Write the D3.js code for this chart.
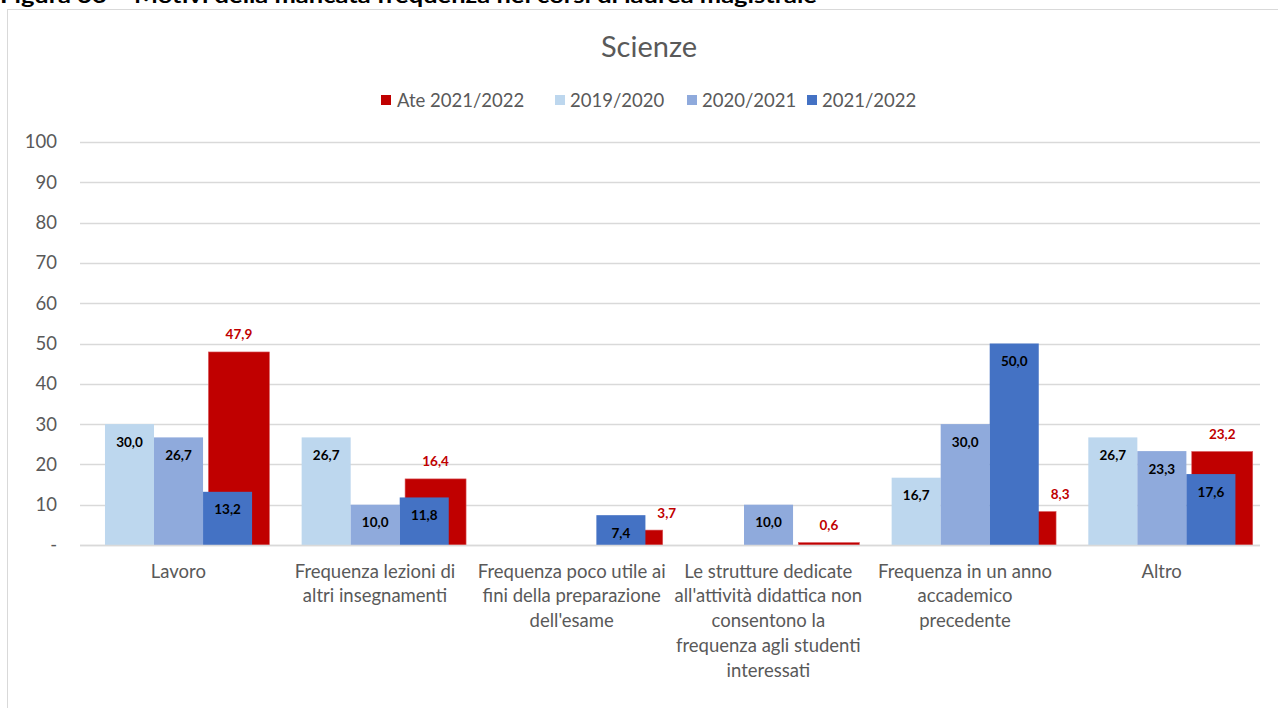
<!DOCTYPE html>
<html><head><meta charset="utf-8">
<script src="https://cdn.jsdelivr.net/npm/d3@7"></script>
<style>
html,body{margin:0;padding:0;background:#fff;overflow:hidden}
svg{display:block}
text{font-family:"Lato","Open Sans",sans-serif}
</style></head>
<body>
<svg id="c" width="1278" height="708"></svg>
<script>
const categories = [
  ["Lavoro"],
  ["Frequenza lezioni di","altri insegnamenti"],
  ["Frequenza poco utile ai","fini della preparazione","dell'esame"],
  ["Le strutture dedicate","all'attività didattica non","consentono la","frequenza agli studenti","interessati"],
  ["Frequenza in un anno","accademico","precedente"],
  ["Altro"]
];
const ateName = "Ate 2021/2022";
const ateValues = [47.9, 16.4, 3.7, 0.6, 8.3, 23.2];
const yearNames = ["2019/2020", "2020/2021", "2021/2022"];
const v2019 = [30.0, 26.7, null, null, 16.7, 26.7];
const v2020 = [26.7, 10.0, null, 10.0, 30.0, 23.3];
const v2021 = [13.2, 11.8, 7.4, null, 50.0, 17.6];
const yTicks = [0,10,20,30,40,50,60,70,80,90,100];

(function(){
const yearValues = [v2019, v2020, v2021];
const yearColors = ["#BDD7EE", "#8FAADC", "#4472C4"];
const ateColor = "#C00000";
const fmt = v => d3.format(".1f")(v).replace(".", ",");

const svg = d3.select("#c");

// top partial caption (cut off at the top edge, as in the reference)
svg.append("text").attr("x", 0).attr("y", 3)
  .attr("font-size", 20).attr("font-weight", "bold").attr("fill", "#000")
  .attr("font-family", "'Open Sans',sans-serif")
  .attr("textLength", 817).attr("lengthAdjust", "spacingAndGlyphs")
  .text("Figura 36 – Motivi della mancata frequenza nei corsi di laurea magistrale");

// chart frame
svg.append("rect").attr("x", 7.5).attr("y", 9.5).attr("width", 1275).attr("height", 720)
  .attr("fill", "#fff").attr("stroke", "#D9D9D9").attr("stroke-width", 1);

const pL = 80, pR = 1260, pT = 142, pB = 545;
const x0 = d3.scaleBand().domain(d3.range(categories.length)).range([pL, pR]).paddingInner(0).paddingOuter(0);
const bw = x0.bandwidth();
const x1 = d3.scaleBand().domain(yearNames).range([bw*0.127, bw*0.875]);
const xa = d3.scaleBand().domain([ateName]).range([bw*0.653, bw*0.963]);
const y = d3.scaleLinear().domain([0, 100]).range([pB, pT]);

// gridlines
svg.append("g").selectAll("line").data(yTicks).join("line")
  .attr("x1", pL).attr("x2", pR)
  .attr("y1", d => Math.round(y(d)) + 0.5).attr("y2", d => Math.round(y(d)) + 0.5)
  .attr("stroke", "#D9D9D9").attr("stroke-width", 1.3);

// y axis labels
const yAxis = d3.axisLeft(y).tickValues(yTicks).tickSize(0).tickPadding(0)
  .tickFormat(d => d === 0 ? "-" : d);
const ga = svg.append("g").attr("transform", `translate(${57},0)`).call(yAxis);
ga.select(".domain").remove();
ga.selectAll("text").attr("font-size", 18.5).attr("fill", "#595959")
  .attr("font-family", "'Lato',sans-serif");

// title
svg.append("text").attr("x", 649).attr("y", 57).attr("text-anchor", "middle")
  .attr("font-size", 29).attr("fill", "#595959").text("Scienze");

// legend
const legendItems = [
  {name: ateName, color: ateColor, x: 381},
  {name: yearNames[0], color: yearColors[0], x: 555},
  {name: yearNames[1], color: yearColors[1], x: 687},
  {name: yearNames[2], color: yearColors[2], x: 807}
];
const lg = svg.append("g").selectAll("g").data(legendItems).join("g")
  .attr("transform", d => `translate(${d.x},95)`);
lg.append("rect").attr("width", 10).attr("height", 10).attr("fill", d => d.color);
lg.append("text").attr("x", d => d.name === ateName ? 16 : 15).attr("y", 11.5)
  .attr("font-size", 18.5).attr("fill", "#595959").text(d => d.name);

// red (Ate) bars behind
const ateG = svg.append("g");
ateG.selectAll("rect").data(ateValues).join("rect")
  .attr("x", (d, i) => x0(i) + xa(ateName))
  .attr("width", xa.bandwidth())
  .attr("y", d => y(d))
  .attr("height", d => pB - y(d))
  .attr("fill", ateColor).attr("stroke", "#D9575B").attr("stroke-width", 0.6);

// blue bars
yearNames.forEach((name, s) => {
  const g = svg.append("g");
  const data = yearValues[s].map((v, i) => ({v, i})).filter(d => d.v != null);
  g.selectAll("rect").data(data).join("rect")
    .attr("x", d => x0(d.i) + x1(name))
    .attr("width", x1.bandwidth())
    .attr("y", d => y(d.v))
    .attr("height", d => pB - y(d.v))
    .attr("fill", yearColors[s]);
  g.selectAll("text").data(data).join("text")
    .attr("x", d => x0(d.i) + x1(name) + x1.bandwidth() / 2)
    .attr("y", d => y(d.v) + 22.5)
    .attr("text-anchor", "middle").attr("font-size", 13.5).attr("font-weight", "bold")
    .attr("fill", "#000").text(d => fmt(d.v));
});

// red labels (moved to the right edge when the front bar hides the red bar)
const lastYear = yearValues[yearValues.length - 1];
ateG.selectAll("text").data(ateValues).join("text")
  .attr("x", (d, i) => {
    const xl = x0(i) + xa(ateName);
    const covered = lastYear[i] != null && lastYear[i] > d;
    return covered ? xl + xa.bandwidth() + 4 : xl + xa.bandwidth() / 2;
  })
  .attr("y", d => y(d) - 12.5)
  .attr("text-anchor", "middle").attr("font-size", 13.5).attr("font-weight", "bold")
  .attr("fill", ateColor).text(d => fmt(d));

// baseline
svg.append("line").attr("x1", pL).attr("x2", pR)
  .attr("y1", pB + 0.5).attr("y2", pB + 0.5)
  .attr("stroke", "#D9D9D9").attr("stroke-width", 1.3);

// category labels
const cg = svg.append("g").selectAll("text").data(categories).join("text")
  .attr("text-anchor", "middle").attr("font-size", 18.5).attr("fill", "#595959")
  .attr("transform", (d, i) => `translate(${x0(i) + bw / 2},577.5)`);
cg.selectAll("tspan").data(d => d).join("tspan")
  .attr("x", 0).attr("y", (d, j) => j * 24.8).text(d => d);
})();
</script>
</body></html>
